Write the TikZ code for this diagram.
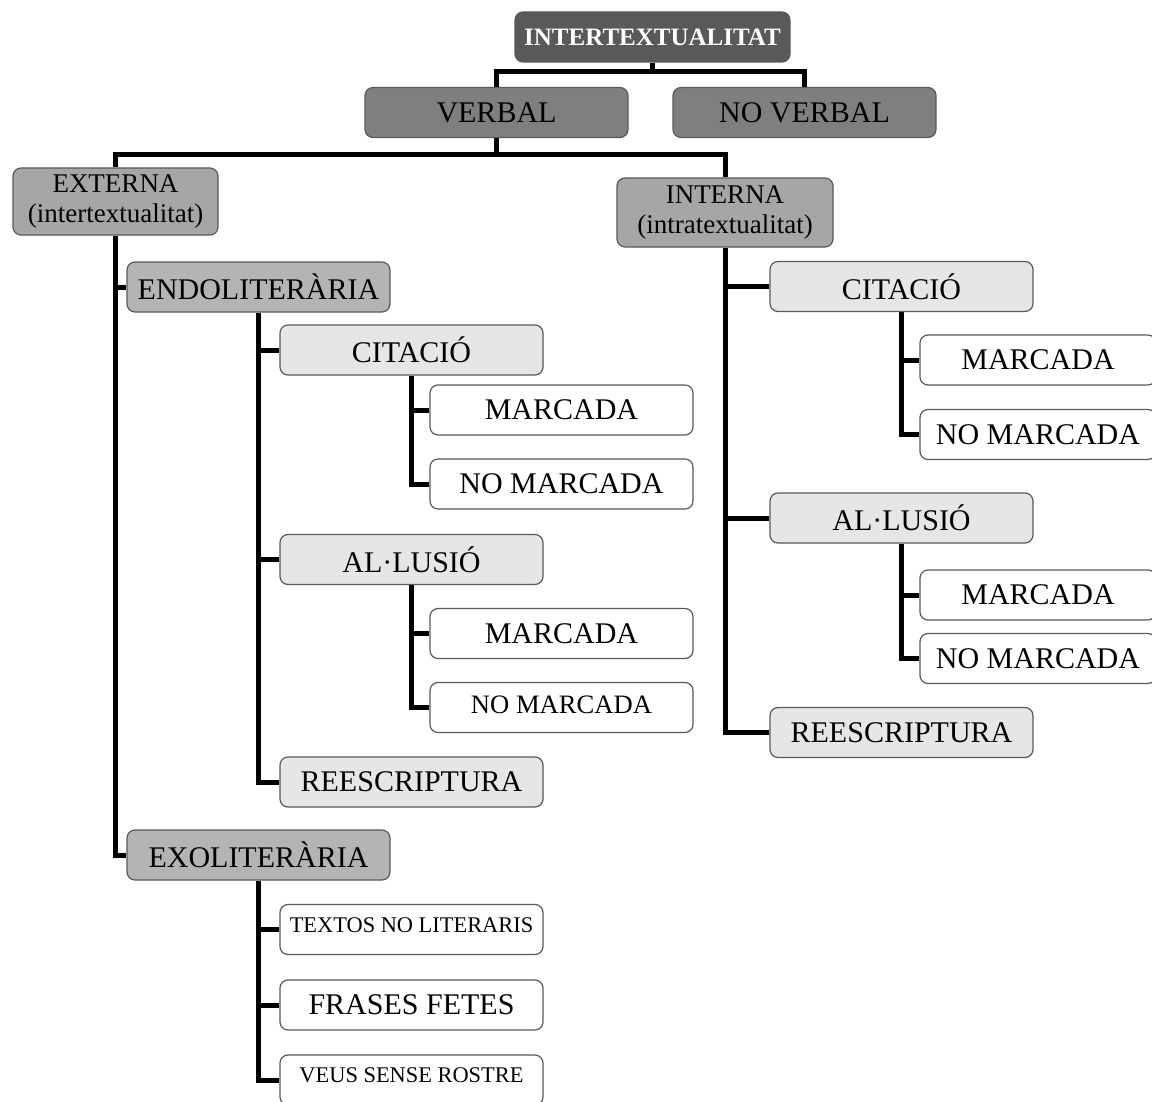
\documentclass[tikz,border=0pt]{standalone}
\usepackage{fontspec}
\setmainfont{Liberation Serif}
\usetikzlibrary{backgrounds}
\definecolor{czero}{HTML}{595959}
\definecolor{cone}{HTML}{7F7F7F}
\definecolor{ctwo}{HTML}{A6A6A6}
\definecolor{cthree}{HTML}{B4B4B4}
\definecolor{cfour}{HTML}{E6E6E6}
\begin{document}
\begin{tikzpicture}[x=0.5pt,y=-0.5pt,
  box/.style={draw=black!65, line width=0.6pt, rounded corners=4pt, inner sep=0pt,
    align=center, minimum width=131.5pt, minimum height=25pt, fill=white,
    font=\fontsize{15}{17}\selectfont},
  lvlzero/.style={box, fill=czero, text=white, minimum width=137.5pt,
    font=\bfseries\fontsize{12.5}{14}\selectfont},
  lvlone/.style={box, fill=cone},
  lvltwo/.style={box, fill=ctwo, font=\fontsize{13.5}{15}\selectfont},
  lvlthree/.style={box, fill=cthree},
  lvlfour/.style={box, fill=cfour},
  leaf/.style={box, fill=white},
  rleaf/.style={box, fill=white, minimum width=118pt},
  small/.style={font=\fontsize{11.2}{13}\selectfont, text height=7.5pt, text depth=5pt},
  conn/.style={line width=2.5pt, black}
]
\useasboundingbox (0,0) rectangle (1152,1102);

% top levels
\node[lvlzero] (top) at (652.5,37) {INTERTEXTUALITAT};
\node[lvlone] (verbal) at (496.5,112.5) {VERBAL};
\node[lvlone] (noverbal) at (804.5,112.5) {NO VERBAL};
\node[lvltwo, minimum width=102.5pt, minimum height=33.5pt] (externa) at (115.5,201.5) {EXTERNA\\(intertextualitat)};
\node[lvltwo, minimum width=108pt, minimum height=34.5pt] (interna) at (725,212.5) {INTERNA\\(intratextualitat)};

% left branch
\node[lvlthree] (endo) at (258.5,287) {ENDOLITERÀRIA};
\node[lvlfour] (citl) at (411.5,350) {CITACIÓ};
\node[leaf] (ml) at (561.5,410) {MARCADA};
\node[leaf] (nml) at (561.5,484) {NO MARCADA};
\node[lvlfour] (all) at (411.5,559.5) {AL·LUSIÓ};
\node[leaf] (mla) at (561.5,633.5) {MARCADA};
\node[leaf, font=\fontsize{13.3}{15}\selectfont, text height=9pt, text depth=3pt] (nmla) at (561.5,707.5) {NO MARCADA};
\node[lvlfour] (rel) at (411.5,782) {REESCRIPTURA};
\node[lvlthree] (exo) at (258.5,855) {EXOLITERÀRIA};
\node[leaf, small] (tx) at (411.5,929.5) {TEXTOS NO LITERARIS};
\node[leaf] (ff) at (411.5,1005) {FRASES FETES};
\node[leaf, small] (vs) at (411.5,1080) {VEUS SENSE ROSTRE};

% right branch
\node[lvlfour] (citr) at (901.5,286.5) {CITACIÓ};
\node[rleaf] (mr) at (1038,360) {MARCADA};
\node[rleaf] (nmr) at (1038,434.5) {NO MARCADA};
\node[lvlfour] (alr) at (901.5,518) {AL·LUSIÓ};
\node[rleaf] (mra) at (1038,595) {MARCADA};
\node[rleaf] (nmra) at (1038,658.5) {NO MARCADA};
\node[lvlfour] (rer) at (901.5,732.5) {REESCRIPTURA};

\coordinate (busa) at (652.5,72);
\coordinate (busb) at (496.5,155);

\begin{scope}[on background layer]
\fill[white] (0,0) rectangle (1152,1102);
\draw[conn] (top.south) -- (busa);
\draw[conn] (verbal.north) |- (busa) -| (noverbal.north);
\draw[conn] (verbal.south) -- (busb);
\draw[conn] (externa.north) |- (busb) -| (interna.north);
\draw[conn] (externa.south) |- (endo.west);
\draw[conn] (externa.south) |- (exo.west);
\draw[conn] (endo.south) |- (citl.west);
\draw[conn] (endo.south) |- (all.west);
\draw[conn] (endo.south) |- (rel.west);
\draw[conn] (citl.south) |- (ml.west);
\draw[conn] (citl.south) |- (nml.west);
\draw[conn] (all.south) |- (mla.west);
\draw[conn] (all.south) |- (nmla.west);
\draw[conn] (exo.south) |- (tx.west);
\draw[conn] (exo.south) |- (ff.west);
\draw[conn] (exo.south) |- (vs.west);
\draw[conn] (interna.south) |- (citr.west);
\draw[conn] (interna.south) |- (alr.west);
\draw[conn] (interna.south) |- (rer.west);
\draw[conn] (citr.south) |- (mr.west);
\draw[conn] (citr.south) |- (nmr.west);
\draw[conn] (alr.south) |- (mra.west);
\draw[conn] (alr.south) |- (nmra.west);
\end{scope}
\end{tikzpicture}
\end{document}
